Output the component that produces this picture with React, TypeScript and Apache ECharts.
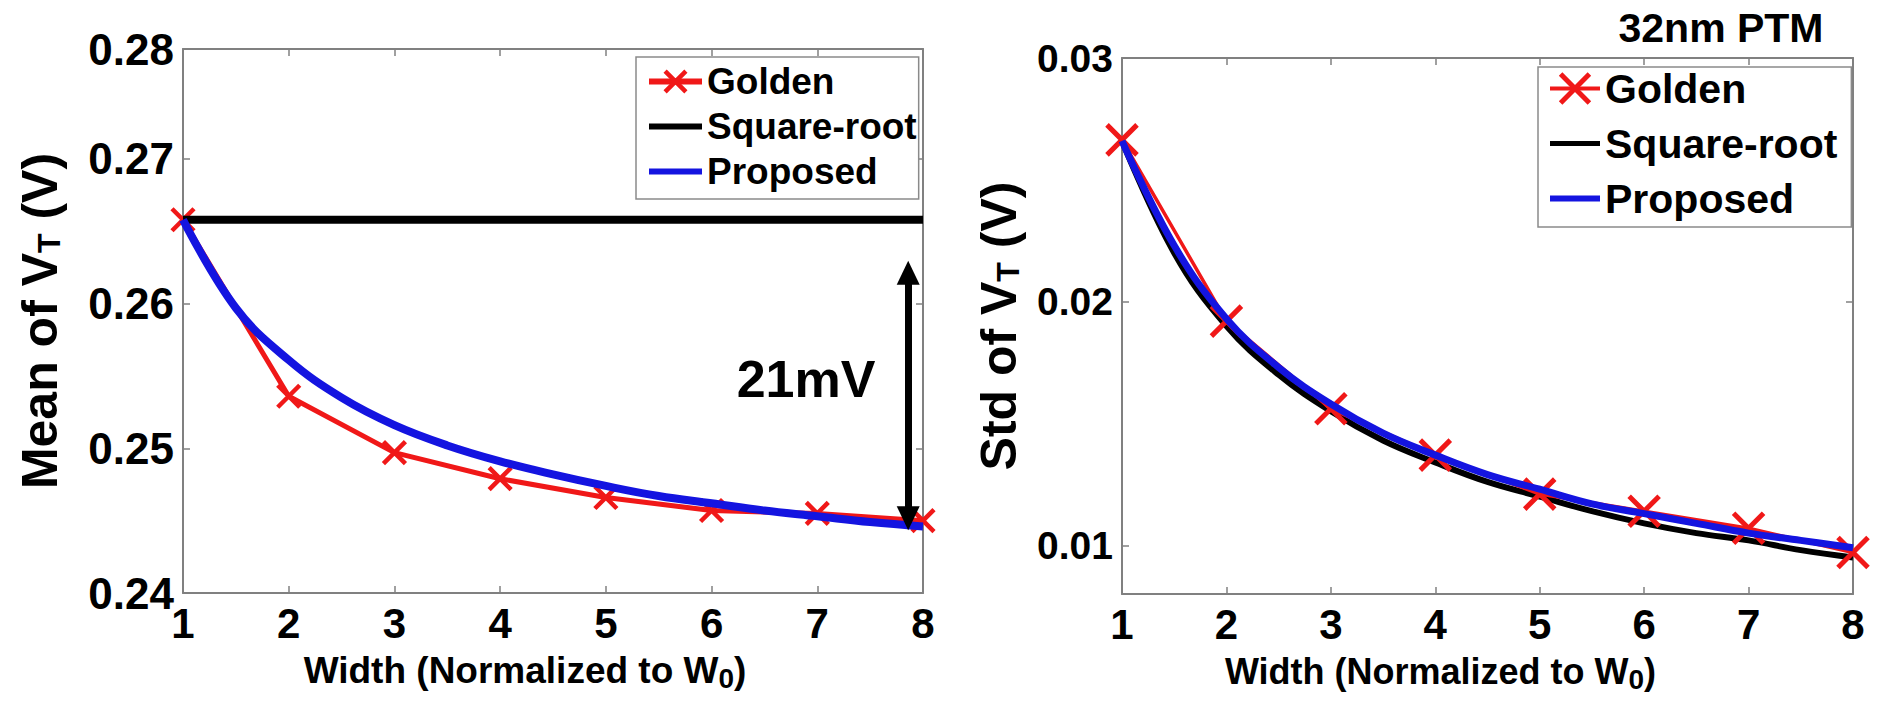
import React, { useEffect, useRef } from "react";
import * as echarts from "echarts";

// ---------- data ----------
const widths = [1, 2, 3, 4, 5, 6, 7, 8];
const xTickValues = [1, 2, 3, 4, 5, 6, 7, 8];

// Left panel: mean of VT (V)
const meanGolden = [0.2658, 0.2536, 0.2497, 0.2479, 0.2466, 0.2457, 0.2455, 0.245];
const meanSqrtX = [1, 8];
const meanSqrt = [0.2658, 0.2658];
const meanProposedX = [1, 1.5, 2, 2.5, 3, 3.5, 4, 4.5, 5, 5.5, 6, 6.5, 7, 7.5, 8];
const meanProposed = [0.2658, 0.2597, 0.2561, 0.2535, 0.2516, 0.2502, 0.2491, 0.2482, 0.2474, 0.2467, 0.2462, 0.2457, 0.2453, 0.2449, 0.2446];
// the reference's box top sits where 0.2776 would be on the lower ticks' scale, labelled "0.28"
const meanYTickValues = [0.24, 0.25, 0.26, 0.27, 0.2776];
const meanYTickLabels = ["0.24", "0.25", "0.26", "0.27", "0.28"];
const meanYMin = 0.24;
const meanYMax = 0.2776;
// 21 mV double arrow (x position, arrow-head centres)
const arrowX = 7.86;
const arrowFrom = 0.26214;
const arrowTo = 0.24517;

// Right panel: std of VT (V)
const stdGolden = [0.02664, 0.0192, 0.0156, 0.0137, 0.0121, 0.0114, 0.0107, 0.0097];
const stdCurveX = [1, 1.5, 2, 2.5, 3, 3.5, 4, 4.5, 5, 5.5, 6, 6.5, 7, 7.5, 8];
const stdSqrt = [0.0266, 0.022, 0.019, 0.017, 0.0155, 0.0143, 0.0134, 0.0126, 0.012, 0.0114, 0.0109, 0.0105, 0.0102, 0.0098, 0.0095];
const stdProposed = [0.0266, 0.0223, 0.0193, 0.0173, 0.0158, 0.0146, 0.0137, 0.0129, 0.0123, 0.0117, 0.0113, 0.0109, 0.0105, 0.0102, 0.0099];
const stdYTickValues = [0.01, 0.02, 0.03];
const stdYTickLabels = ["0.01", "0.02", "0.03"];
const stdYMin = 0.008;
const stdYMax = 0.03;

// ---------- styles ----------
const FONT = "'Liberation Sans', Arial, Helvetica, sans-serif";
const RED = "#f01818";
const BLUE = "#1414e0";
const BLACK = "#000000";
const GRAY = "#808080";
const XMARK = "path://M0,0L10,10M10,0L0,10";
const NO_SYMBOL = { color: "rgba(0,0,0,0)", borderWidth: 0, borderColor: "rgba(0,0,0,0)" };

const zip = (xs: number[], ys: number[]) => xs.map((x, i) => [x, ys[i]]);

const labelFor = (values: number[], labels: string[]) => (v: number) => {
  const i = values.findIndex((t) => Math.abs(t - v) < 1e-7);
  return i >= 0 ? labels[i] : "";
};

const axisLine = { show: true, onZero: false, lineStyle: { color: GRAY, width: 2 } };
const tick = (extra: any = {}) => ({ show: true, inside: true, length: 7, lineStyle: { color: GRAY, width: 1.5 }, ...extra });

const nameStyle = (size: number, lh: number, subSize: number, subLH: number, padding?: number[]) => ({
  fontSize: size,
  fontWeight: "bold",
  fontFamily: FONT,
  color: BLACK,
  lineHeight: lh,
  padding: padding || [0, 0, 0, 0],
  rich: {
    sub: { fontSize: subSize, fontWeight: "bold", fontFamily: FONT, color: BLACK, lineHeight: subLH, verticalAlign: "bottom" },
  },
});

function xAxes(grid: number, nameGap: number, namePad: number[], nameSize: number) {
  return [
    {
      type: "value",
      gridIndex: grid,
      position: "bottom",
      min: 1,
      max: 8,
      interval: 1,
      axisLine,
      axisTick: tick(),
      splitLine: { show: false },
      axisLabel: {
        show: true,
        margin: 9,
        fontSize: 42,
        fontWeight: "bold",
        fontFamily: FONT,
        color: BLACK,
        showMinLabel: true,
        showMaxLabel: true,
        formatter: (v: number) => (xTickValues.includes(v) ? String(v) : ""),
      },
      name: "Width (Normalized to W{sub|0})",
      nameLocation: "middle",
      nameGap,
      nameTextStyle: nameStyle(nameSize, 44, 28, 8, namePad),
    },
    {
      type: "value",
      gridIndex: grid,
      position: "top",
      min: 1,
      max: 8,
      interval: 1,
      axisLine,
      axisTick: tick(),
      splitLine: { show: false },
      axisLabel: { show: false },
    },
  ];
}

function yAxes(grid: number, min: number, max: number, values: number[], labels: string[], labelSize: number, name: string, nameGap: number, nameSize: number) {
  return [
    {
      type: "value",
      gridIndex: grid,
      position: "left",
      min,
      max,
      axisLine,
      axisTick: tick({ customValues: values }),
      splitLine: { show: false },
      axisLabel: {
        show: true,
        customValues: values,
        margin: 9,
        fontSize: labelSize,
        fontWeight: "bold",
        fontFamily: FONT,
        color: BLACK,
        formatter: labelFor(values, labels),
      },
      name,
      nameLocation: "middle",
      nameGap,
      nameTextStyle: nameStyle(nameSize, 50, 32, 8),
    },
    {
      type: "value",
      gridIndex: grid,
      position: "right",
      min,
      max,
      axisLine,
      axisTick: tick({ customValues: values }),
      splitLine: { show: false },
      axisLabel: { show: false },
    },
  ];
}

const legendText = (size: number, lh: number) => ({ fontSize: size, fontWeight: "bold", fontFamily: FONT, color: BLACK, lineHeight: lh });

function buildOption(): any {
  return {
    animation: false,
    backgroundColor: "#ffffff",
    grid: [
      { left: 183, top: 49, width: 740, height: 544, show: false, containLabel: false, outerBoundsMode: "none" },
      { left: 1122, top: 58, width: 731, height: 536, show: false, containLabel: false, outerBoundsMode: "none" },
    ],
    xAxis: [...xAxes(0, 47, [0, 56, 0, 0], 37), ...xAxes(1, 46, [0, 94, 0, 0], 36)],
    yAxis: [
      ...yAxes(0, meanYMin, meanYMax, meanYTickValues, meanYTickLabels, 44, "Mean of V{sub|T} (V)", 118, 50),
      ...yAxes(1, stdYMin, stdYMax, stdYTickValues, stdYTickLabels, 39, "Std of V{sub|T} (V)", 98, 50),
    ],
    legend: [
      {
        orient: "vertical",
        left: 636,
        top: 57,
        data: [
          { name: "Golden", itemStyle: { borderWidth: 4.5 }, lineStyle: { width: 6 } },
          { name: "Square-root", itemStyle: NO_SYMBOL, lineStyle: { width: 6 } },
          { name: "Proposed", itemStyle: NO_SYMBOL, lineStyle: { width: 6 } },
        ],
        selectedMode: false,
        itemWidth: 53,
        itemHeight: 26,
        itemGap: 6,
        padding: [5, 2, 8, 10],
        backgroundColor: "#ffffff",
        borderColor: "#8a8a8a",
        borderWidth: 1.5,
        textStyle: legendText(37, 39),
      },
      {
        orient: "vertical",
        left: 1538,
        top: 67,
        data: [
          { name: "Golden", itemStyle: { borderWidth: 5 }, lineStyle: { width: 4 } },
          { name: "Square-root", itemStyle: NO_SYMBOL, lineStyle: { width: 5 } },
          { name: "Proposed", itemStyle: NO_SYMBOL, lineStyle: { width: 6 } },
        ],
        selectedMode: false,
        itemWidth: 50,
        itemHeight: 36,
        itemGap: 14,
        padding: [1, 14, 8, 9],
        backgroundColor: "#ffffff",
        borderColor: "#8a8a8a",
        borderWidth: 1.5,
        textStyle: legendText(41, 36),
      },
    ],
    series: [
      // ---- left panel ----
      {
        name: "Golden",
        type: "line",
        xAxisIndex: 0,
        yAxisIndex: 0,
        data: zip(widths, meanGolden),
        color: RED,
        lineStyle: { color: RED, width: 5 },
        symbol: XMARK,
        symbolSize: 22,
        showSymbol: true,
        itemStyle: { color: RED, borderColor: RED, borderWidth: 4.5 },
        z: 2,
      },
      {
        name: "Square-root",
        type: "line",
        xAxisIndex: 0,
        yAxisIndex: 0,
        data: zip(meanSqrtX, meanSqrt),
        color: BLACK,
        lineStyle: { color: BLACK, width: 8 },
        symbol: "none",
        z: 3,
        markLine: {
          silent: true,
          animation: false,
          symbol: ["triangle", "triangle"],
          symbolSize: [23, 24],
          label: { show: false },
          lineStyle: { color: BLACK, width: 7, type: "solid" },
          emphasis: { disabled: true },
          data: [[{ coord: [arrowX, arrowFrom] }, { coord: [arrowX, arrowTo] }]],
        },
      },
      {
        name: "Proposed",
        type: "line",
        xAxisIndex: 0,
        yAxisIndex: 0,
        data: zip(meanProposedX, meanProposed),
        color: BLUE,
        smooth: 0.4,
        lineStyle: { color: BLUE, width: 8 },
        symbol: "none",
        z: 4,
      },
      // ---- right panel ----
      {
        name: "Square-root",
        type: "line",
        xAxisIndex: 2,
        yAxisIndex: 2,
        data: zip(stdCurveX, stdSqrt),
        color: BLACK,
        smooth: 0.4,
        lineStyle: { color: BLACK, width: 6 },
        symbol: "none",
        z: 2,
      },
      {
        name: "Golden",
        type: "line",
        xAxisIndex: 2,
        yAxisIndex: 2,
        data: zip(widths, stdGolden),
        color: RED,
        lineStyle: { color: RED, width: 3.5 },
        symbol: XMARK,
        symbolSize: 30,
        showSymbol: true,
        itemStyle: { color: RED, borderColor: RED, borderWidth: 5 },
        z: 3,
      },
      {
        name: "Proposed",
        type: "line",
        xAxisIndex: 2,
        yAxisIndex: 2,
        data: zip(stdCurveX, stdProposed),
        color: BLUE,
        smooth: 0.4,
        lineStyle: { color: BLUE, width: 7 },
        symbol: "none",
        z: 4,
      },
    ],
    graphic: [
      {
        type: "text",
        x: 806,
        y: 379,
        style: { text: "21mV", fontSize: 52, fontWeight: "bold", fontFamily: FONT, fill: BLACK, align: "center", verticalAlign: "middle" },
      },
      {
        type: "text",
        x: 1721,
        y: 28,
        style: { text: "32nm PTM", fontSize: 41, fontWeight: "bold", fontFamily: FONT, fill: BLACK, align: "center", verticalAlign: "middle" },
      },
    ],
  };
}

export default function App() {
  const ref = useRef<HTMLDivElement>(null);
  useEffect(() => {
    if (!ref.current) return;
    const chart = echarts.init(ref.current, undefined, { renderer: "svg" });
    chart.setOption(buildOption());
    return () => chart.dispose();
  }, []);
  return (
    <div
      ref={ref}
      style={{ position: "fixed", left: 0, top: 0, width: 1877, height: 702, background: "#fff" }}
    />
  );
}
